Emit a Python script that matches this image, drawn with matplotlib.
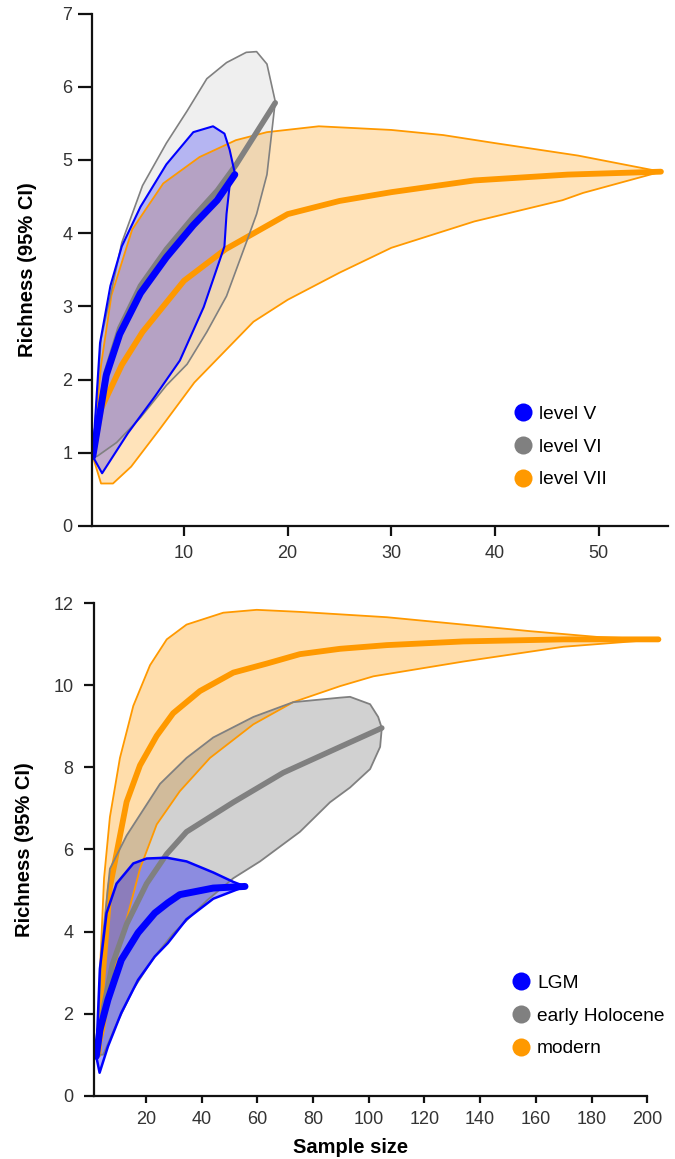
import matplotlib.pyplot as plt
from matplotlib.lines import Line2D

plt.rcParams['font.family'] = ['Liberation Sans', 'DejaVu Sans']

# ---------------- top panel: levels ----------------
# level VII (orange)
l7_mean_x = [1.2, 2, 4, 6, 10, 14, 20, 25, 30, 38, 47, 56]
l7_mean_y = [0.95, 1.6, 2.2, 2.65, 3.35, 3.78, 4.26, 4.44, 4.56, 4.72, 4.80, 4.84]
l7_up_x = [1.2, 2, 3, 5, 8, 11.5, 15, 18, 23, 30, 35, 40, 48, 56]
l7_up_y = [0.95, 2.2, 3.15, 4.05, 4.68, 5.04, 5.27, 5.38, 5.46, 5.41, 5.34, 5.23, 5.06, 4.84]
l7_lo_x = [1.2, 2.0, 3.15, 4.9, 7.7, 11, 16.7, 20, 25, 30, 38, 46.5, 48.5, 56]
l7_lo_y = [0.95, 0.58, 0.58, 0.81, 1.33, 1.96, 2.79, 3.09, 3.46, 3.80, 4.16, 4.45, 4.55, 4.84]

# level VI (grey)
l6_mean_x = [1.2, 2.5, 3.8, 5.8, 8.3, 10.9, 13.2, 15, 18.8]
l6_mean_y = [0.95, 2.1, 2.7, 3.28, 3.78, 4.22, 4.58, 4.93, 5.78]
l6_up_x = [1.2, 2, 4, 6, 8.3, 10.3, 12.2, 14.1, 16, 17, 18, 18.8]
l6_up_y = [0.95, 2.55, 3.87, 4.65, 5.23, 5.67, 6.11, 6.33, 6.47, 6.48, 6.31, 5.8]
l6_lo_x = [1.2, 1.6, 3.5, 5.8, 8.3, 10.3, 12.2, 14.1, 16, 17, 18, 18.8]
l6_lo_y = [0.95, 0.95, 1.14, 1.48, 1.92, 2.21, 2.65, 3.14, 3.87, 4.26, 4.80, 5.8]

# level V (blue)
l5_mean_x = [1.2, 2.5, 3.8, 5.8, 8.3, 10.9, 13.2, 14.9]
l5_mean_y = [0.95, 2.06, 2.62, 3.18, 3.67, 4.11, 4.45, 4.80]
l5_up_x = [1.2, 1.9, 2.9, 4.0, 5.8, 8.3, 10.9, 12.8, 13.9, 14.4, 14.9]
l5_up_y = [0.95, 2.5, 3.28, 3.82, 4.36, 4.94, 5.38, 5.46, 5.36, 5.14, 4.82]
l5_lo_x = [1.2, 2.1, 4.6, 7.2, 9.6, 11.9, 13.9, 14.1, 14.4, 14.9]
l5_lo_y = [0.95, 0.72, 1.27, 1.77, 2.26, 2.99, 3.82, 4.26, 4.65, 4.82]

# ---------------- bottom panel: periods ----------------
# modern (orange)
mo_mean_x = [3, 4, 7.1, 13.1, 17.9, 23.9, 29.8, 39.4, 51.4, 63.4, 75.3, 89.7, 106.5, 134, 169.9, 204]
mo_mean_y = [1.0, 2.5, 5.08, 7.16, 8.05, 8.77, 9.32, 9.86, 10.31, 10.53, 10.76, 10.89, 10.98, 11.07, 11.12, 11.12]
mo_up_x = [3, 3.5, 5, 7.1, 10.7, 15.5, 21.5, 27.5, 34.6, 47.8, 59.8, 75.3, 89.7, 106.5, 134, 157.9, 181.9, 204]
mo_up_y = [1.0, 3.0, 5.3, 6.79, 8.23, 9.50, 10.49, 11.12, 11.48, 11.77, 11.84, 11.79, 11.73, 11.66, 11.48, 11.32, 11.18, 11.12]
mo_lo_x = [3, 5, 8, 11.9, 17.9, 23.9, 32.2, 43, 58.6, 72.9, 89.7, 101.7, 134, 169.9, 204]
mo_lo_y = [1.0, 1.6, 2.9, 3.99, 5.53, 6.61, 7.42, 8.23, 9.05, 9.59, 9.98, 10.22, 10.58, 10.94, 11.12]

# early Holocene (grey)
eh_mean_x = [2.5, 5, 8, 13.1, 20.3, 27.5, 34.6, 51.4, 69.3, 89.7, 104.7]
eh_mean_y = [1.0, 2.2, 3.2, 4.18, 5.17, 5.89, 6.43, 7.15, 7.87, 8.5, 8.96]
eh_up_x = [2.5, 4, 7.1, 13.1, 25.1, 34.6, 44.2, 58.6, 72.9, 89.7, 93.3, 100.5, 103.4, 104.7]
eh_up_y = [1.0, 3.5, 5.53, 6.34, 7.60, 8.23, 8.73, 9.23, 9.59, 9.70, 9.72, 9.54, 9.23, 8.96]
eh_lo_x = [2.5, 4.7, 9.5, 15.5, 22.7, 29.8, 41.8, 51.4, 61, 75.3, 86.1, 93.3, 100.5, 104.1, 104.7]
eh_lo_y = [1.0, 1.0, 1.75, 2.6, 3.35, 3.95, 4.75, 5.3, 5.71, 6.43, 7.15, 7.51, 7.96, 8.50, 8.96]

# LGM (blue)
lgm_mean_x = [2.2, 3.5, 6.4, 11.2, 17.2, 23.2, 27.9, 32.2, 44.2, 55.6]
lgm_mean_y = [0.96, 1.6, 2.34, 3.31, 3.97, 4.45, 4.70, 4.90, 5.06, 5.10]
lgm_up_x = [2.2, 3.5, 5.9, 9.5, 15.5, 20.3, 27.5, 34.6, 44.2, 51.4, 55.6]
lgm_up_y = [0.96, 3.09, 4.45, 5.17, 5.66, 5.78, 5.80, 5.71, 5.44, 5.21, 5.10]
lgm_lo_x = [2.2, 3.4, 6.4, 11.2, 17.2, 23.2, 27.9, 34.6, 44.2, 55.6]
lgm_lo_y = [0.96, 0.56, 1.2, 2.02, 2.82, 3.39, 3.72, 4.3, 4.8, 5.10]

top_labels = ['level V', 'level VI', 'level VII']
bottom_labels = ['LGM', 'early Holocene', 'modern']

c_blue = '#0000ff'
c_grey = '#808080'
c_orange = '#ff9900'


def band(ax, ux, uy, lx, ly, mx, my, col, a, ecol, lw_e, lw_m):
    px = list(ux) + list(lx)[::-1]
    py = list(uy) + list(ly)[::-1]
    ax.fill(px, py, color=col, alpha=a, lw=0)
    ax.plot(ux, uy, color=ecol, lw=lw_e, solid_joinstyle='round')
    ax.plot(lx, ly, color=ecol, lw=lw_e, solid_joinstyle='round')
    ax.plot(mx, my, color=ecol, lw=lw_m, solid_capstyle='round', solid_joinstyle='round')


def style(ax, ylen, ypad, xlen, xpad):
    for s in ['top', 'right']:
        ax.spines[s].set_visible(False)
    for s in ['left', 'bottom']:
        ax.spines[s].set_linewidth(1.6)
        ax.spines[s].set_color('#111111')
    ax.tick_params(axis='y', length=ylen, width=1.6, pad=ypad, labelsize=13, colors='#111111', labelcolor='#333333')
    ax.tick_params(axis='x', length=xlen, width=1.6, pad=xpad, labelsize=13, colors='#111111', labelcolor='#333333')


def legend(ax, labels, anchor):
    handles = [Line2D([], [], ls='none', marker='o', ms=13, mfc=c, mec='none')
               for c in [c_blue, c_grey, c_orange]]
    ax.legend(handles, labels, loc='upper left', bbox_to_anchor=anchor, frameon=False,
              fontsize=13.8, handlelength=0.9, handletextpad=0.4, labelspacing=0.8,
              borderaxespad=0)


fig = plt.figure(figsize=(6.75, 11.59), dpi=100)

# top panel
ax1 = fig.add_axes([0.1359, 0.5462, 0.854, 0.4421])
band(ax1, l7_up_x, l7_up_y, l7_lo_x, l7_lo_y, l7_mean_x, l7_mean_y, c_orange, 0.27, c_orange, 1.3, 4.2)
band(ax1, l6_up_x, l6_up_y, l6_lo_x, l6_lo_y, l6_mean_x, l6_mean_y, c_grey, 0.12, c_grey, 1.2, 4.0)
band(ax1, l5_up_x, l5_up_y, l5_lo_x, l5_lo_y, l5_mean_x, l5_mean_y, c_blue, 0.24, c_blue, 1.5, 5.0)
ax1.set_xlim(1.1, 56.7)
ax1.set_ylim(0, 7)
ax1.set_xticks([10, 20, 30, 40, 50])
ax1.set_yticks(range(0, 8))
style(ax1, 10, 4, 7, 7)
ax1.set_ylabel('Richness (95% CI)', fontsize=14.5, fontweight='bold', labelpad=18)
legend(ax1, top_labels, (0.72, 0.25))

# bottom panel
ax2 = fig.add_axes([0.1397, 0.0546, 0.844, 0.4249])
band(ax2, mo_up_x, mo_up_y, mo_lo_x, mo_lo_y, mo_mean_x, mo_mean_y, c_orange, 0.33, c_orange, 1.3, 4.2)
band(ax2, eh_up_x, eh_up_y, eh_lo_x, eh_lo_y, eh_mean_x, eh_mean_y, c_grey, 0.36, c_grey, 1.3, 4.0)
band(ax2, lgm_up_x, lgm_up_y, lgm_lo_x, lgm_lo_y, lgm_mean_x, lgm_mean_y, c_blue, 0.33, c_blue, 1.8, 5.0)
ax2.set_xlim(1.5, 206)
ax2.set_ylim(0, 12)
ax2.spines['bottom'].set_bounds(1.5, 200)
ax2.set_xticks(range(20, 201, 20))
ax2.set_yticks(range(0, 13, 2))
style(ax2, 7, 8, 5, 6)
ax2.set_ylabel('Richness (95% CI)', fontsize=14.5, fontweight='bold', labelpad=14)
ax2.set_xlabel('Sample size', fontsize=14.5, fontweight='bold', labelpad=6)
ax2.xaxis.set_label_coords(0.45, -0.085)
legend(ax2, bottom_labels, (0.72, 0.262))

fig.savefig('out.png', dpi=100)
